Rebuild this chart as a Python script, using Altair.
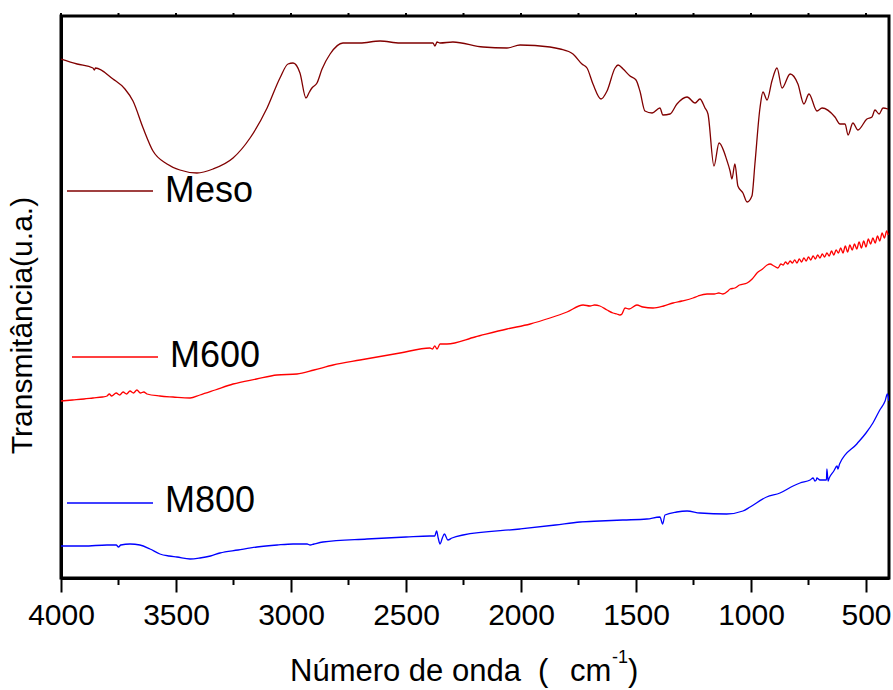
import altair as alt
import pandas as pd

FONT = "Liberation Sans"

series_names = ["Meso", "M600", "M800"]
series_colors = ["#800000", "#FF0000", "#0000FF"]

# ---- Meso (wavenumber cm-1, transmittance a.u.) ----
meso_wn = [4000, 3930, 3861, 3855, 3850, 3774, 3722, 3687, 3643, 3600, 3539, 3483, 3409,
           3339, 3252, 3178, 3104, 3048, 3013, 2991, 2961, 2935, 2920, 2909, 2887, 2865,
           2830, 2774, 2700, 2613, 2526, 2400, 2383, 2374, 2365, 2352, 2296, 2165, 2061,
           2004, 1874, 1830, 1774, 1735, 1713, 1687, 1652, 1626, 1591, 1578, 1556, 1526,
           1500, 1483, 1461, 1430, 1396, 1383, 1352, 1322, 1278, 1243, 1222, 1200, 1187,
           1161, 1139, 1104, 1091, 1083, 1070, 1057, 1035, 1017, 996, 983, 961, 948, 930,
           909, 887, 865, 830, 796, 770, 748, 713, 691, 635, 613, 591, 578, 557, 535, 496,
           474, 461, 443, 426, 404]
meso_t = [519, 514, 510, 508, 510, 499, 489, 477, 450, 427, 414, 408, 405,
          409, 420, 440, 470, 500, 514, 515, 505, 480, 486, 490, 495, 509,
          524, 535, 535, 537, 535, 535, 535, 532, 536, 535, 536, 531, 530,
          533, 531, 529, 524, 514, 510, 494, 479, 487, 510, 513, 509, 502,
          498, 487, 467, 465, 470, 463, 464, 474, 481, 475, 479, 470, 464,
          412, 435, 417, 407, 399, 414, 392, 385, 376, 382, 414, 470, 486, 478,
          497, 510, 490, 504, 494, 474, 484, 467, 470, 461, 454, 454, 443, 455, 448, 459,
          461, 468, 464, 470, 469]

# ---- M600 ----
m600_wn = [4000, 3950, 3900, 3861, 3820, 3800, 3790, 3780, 3760, 3745, 3730, 3715, 3700,
           3685, 3670, 3655, 3640, 3626, 3570, 3513, 3439, 3396, 3330, 3252, 3150, 3061,
           2974, 2900, 2817, 2700, 2526, 2396, 2385, 2375, 2365, 2352, 2322, 2200, 2061,
           1960, 1874, 1800, 1730, 1700, 1680, 1657, 1626, 1600, 1583, 1570, 1561, 1548,
           1530, 1496, 1470, 1426, 1380, 1339, 1300, 1252, 1230, 1191, 1160, 1140, 1122,
           1100, 1091, 1070, 1050, 1017, 995, 974, 950, 930, 917, 900, 883,
           870, 860, 850, 840, 830, 820, 810, 800, 790, 780, 770, 760, 750, 740, 730, 720,
           710, 700, 690, 680, 670, 660, 650, 640, 630, 620, 610, 600, 590, 580, 570, 560,
           550, 540, 530, 520, 510, 500, 490, 480, 470, 460, 450, 440, 430, 420, 410, 404]
m600_t = [177, 178, 179, 180, 181, 182, 184, 182, 185, 183, 186, 184, 187,
          185, 188, 185, 186, 184, 182, 181, 180, 183, 188, 194, 199, 203,
          204, 208, 213, 218, 225, 230, 229, 232, 229, 234, 234, 241, 249,
          254, 260, 266, 273, 272, 273, 272, 268, 265, 264, 263, 264, 270,
          269, 273, 271, 270, 272, 275, 277, 280, 282, 284, 284, 285, 284,
          287, 289, 290, 293, 295, 299, 305, 309, 313, 314, 312, 310,
          314, 313, 316, 314, 317, 315, 318, 315, 319, 316, 320, 317, 321, 318, 322, 319,
          323, 320, 324, 321, 325, 322, 327, 323, 328, 325, 330, 325, 332, 326, 333, 328,
          334, 329, 336, 330, 337, 331, 339, 334, 340, 335, 342, 337, 345, 340, 347, 343]

# ---- M800 ----
m800_wn = [4000, 3900, 3800, 3760, 3750, 3740, 3700, 3657, 3613, 3570, 3530, 3496, 3439,
           3396, 3350, 3309, 3230, 3148, 3060, 2991, 2930, 2917, 2900, 2861, 2670, 2500,
           2396, 2375, 2367, 2360, 2352, 2342, 2333, 2318, 2300, 2252, 2004, 1850, 1743,
           1657, 1556, 1453, 1396, 1384, 1374, 1323, 1278, 1222, 1106, 1035, 1004, 932,
           874, 817, 787, 743, 730, 722, 716, 714, 700, 687, 672, 670, 665, 660, 640, 626,
           622, 615, 540, 500, 470, 440, 417, 407, 400]
m800_t = [32, 32, 33, 33, 31, 33, 34, 33, 29, 24, 22, 21, 19,
          20, 22, 25, 28, 31, 33, 34, 34, 33, 34, 36, 39, 41,
          42, 42, 47, 40, 34, 40, 44, 38, 40, 43, 49, 53, 56,
          57, 58, 59, 61, 54, 63, 66, 67, 65, 64, 67, 71, 81,
          85, 92, 95, 98, 100, 97, 98, 100, 98, 98, 98, 109, 97, 100, 107, 112,
          109, 114, 134, 145, 155, 168, 177, 184, 177]

major_ticks = [4000, 3500, 3000, 2500, 2000, 1500, 1000, 500]
minor_ticks = [3750, 3250, 2750, 2250, 1750, 1250, 750]

frames = []
for name, wn, t in zip(series_names, [meso_wn, m600_wn, m800_wn], [meso_t, m600_t, m800_t]):
    frames.append(pd.DataFrame({"wn": wn, "t": t, "serie": name}))
df = pd.concat(frames, ignore_index=True)

x_scale = alt.Scale(domain=[400, 4000], reverse=True, nice=False, zero=False)
y_scale = alt.Scale(domain=[0, 562], nice=False, zero=False)

x_axis = alt.Axis(values=major_ticks, format="d", title=None, labelFont=FONT,
                  labelFontSize=30, labelColor="black", labelPadding=8, tickSize=14,
                  tickWidth=2, tickColor="black", domainColor="black", domainWidth=3,
                  grid=False, labelFlush=False, labelOverlap=False)
y_axis = alt.Axis(labels=False, ticks=False, grid=False, domainColor="black", domainWidth=3,
                  title="Transmitância(u.a.)", titleFont=FONT, titleFontSize=30,
                  titleFontWeight="normal", titleColor="black", titleAngle=270,
                  titleX=-39, titleY=309, titleAlign="center", titleBaseline="middle")

lines = alt.Chart(df).mark_line(strokeWidth=1.3, clip=True, interpolate="monotone").encode(
    x=alt.X("wn:Q", scale=x_scale, axis=x_axis),
    y=alt.Y("t:Q", scale=y_scale, axis=y_axis),
    color=alt.Color("serie:N", scale=alt.Scale(domain=series_names, range=series_colors),
                    legend=None),
    order=alt.Order("wn:Q"),
)

minor = alt.Chart(pd.DataFrame({"wn": minor_ticks})).mark_rule(
    color="black", strokeWidth=2).encode(
    x=alt.X("wn:Q", scale=x_scale, axis=x_axis),
    y=alt.value(562), y2=alt.value(569))

top = alt.Chart(pd.DataFrame({"wn": major_ticks + minor_ticks})).mark_rule(
    color="black", strokeWidth=2).encode(
    x=alt.X("wn:Q", scale=x_scale, axis=x_axis),
    y=alt.value(-3), y2=alt.value(0))

layers = [lines, minor, top]

# manual legend (lines + labels inside the plot)
legend_line_x = [(6, 92), (11, 97), (6, 92)]
legend_line_y = [175, 341, 487]
legend_text_x = [104, 109, 104]
legend_text_y = [175, 340, 485]
for i, (name, col) in enumerate(zip(series_names, series_colors)):
    d = pd.DataFrame({"label": [name]})
    layers.append(alt.Chart(d).mark_rule(color=col, strokeWidth=1.3).encode(
        x=alt.value(legend_line_x[i][0]), x2=alt.value(legend_line_x[i][1]),
        y=alt.value(legend_line_y[i])))
    layers.append(alt.Chart(d).mark_text(align="left", baseline="middle", font=FONT,
                                         fontSize=36, color="black").encode(
        x=alt.value(legend_text_x[i]), y=alt.value(legend_text_y[i]), text="label:N"))

# x-axis title with superscript
title_parts = ["Número de onda", "(", "cm", "-1", ")"]
title_x = [229, 477, 509, 551, 567]
title_y = [665, 665, 665, 647, 665]
title_size = [31, 31, 31, 18, 31]
for part, tx, ty, fs in zip(title_parts, title_x, title_y, title_size):
    layers.append(alt.Chart(pd.DataFrame({"s": [part]})).mark_text(
        align="left", baseline="alphabetic", font=FONT, fontSize=fs, color="black").encode(
        x=alt.value(tx), y=alt.value(ty), text="s:N"))

chart = alt.layer(*layers).properties(
    width=828, height=562,
    padding={"left": 61, "top": 16, "right": 4, "bottom": 112},
    autosize=alt.AutoSizeParams(type="none"),
    background="white",
).configure_view(stroke="black", strokeWidth=3)

chart.save("out.html", embed_options={"renderer": "svg", "actions": False})
